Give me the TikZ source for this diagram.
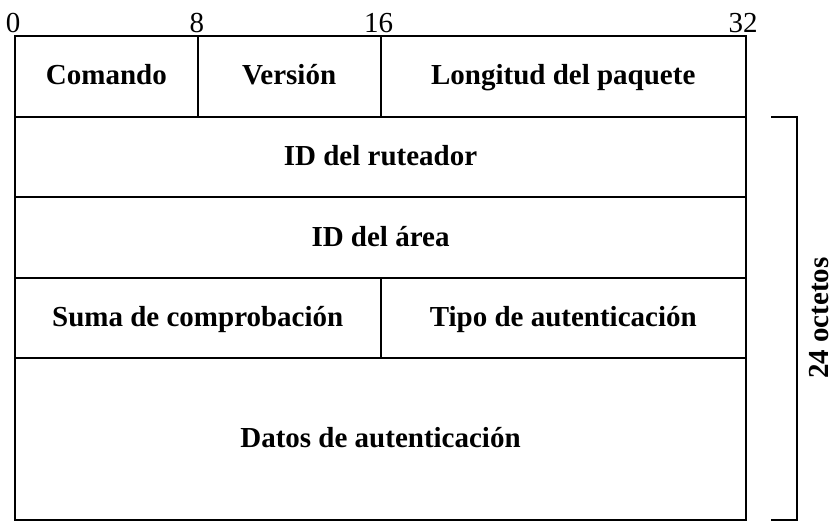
\documentclass[tikz,border=0pt]{standalone}
\usepackage{fontspec}
\setmainfont{Liberation Serif}
\usetikzlibrary{positioning, calc}
\tikzset{
  field/.style={rectangle, draw, line width=2pt, inner sep=0pt, outer sep=0pt, minimum height=80.6pt, text height=17pt, text depth=0pt, font=\fontsize{29}{34}\selectfont\bfseries}, % one row of the header
  byte/.style={field, minimum width=182.75pt},
  halfword/.style={field, minimum width=365.5pt},
  word/.style={field, minimum width=731pt},
  bitmark/.style={inner sep=0pt, font=\fontsize{29}{34}\selectfont},
  bracket/.style={draw, line width=2pt},
  sizelabel/.style={inner sep=0pt, font=\fontsize{29}{34}\selectfont\bfseries}
}
\begin{document}
\begin{tikzpicture}[x=1pt, y=-1pt, node distance=0pt]
    \useasboundingbox (0,0) rectangle (838,532);

    % Fields
    \node[byte, anchor=north west] (comando) at (15,36) {Comando};
    \node[byte, right=of comando] (version) {Versión};
    \node[halfword, right=of version] (longitud) {Longitud del paquete};
    \node[word, below=of comando.south west, anchor=north west] (ruteador) {ID del ruteador};
    \node[word, below=of ruteador] (area) {ID del área};
    \node[halfword, below=of area.south west, anchor=north west] (suma) {Suma de comprobación};
    \node[halfword, right=of suma] (tipo) {Tipo de autenticación};
    \node[word, minimum height=161.2pt, below=of suma.south west, anchor=north west] (datos) {Datos de autenticación};

    % Bit positions
    \node[bitmark, above=3pt of comando.north west, xshift=-2pt] (b0) {0};
    \node[bitmark, above=3pt of version.north west, xshift=-1pt] (b8) {8};
    \node[bitmark, above=3pt of longitud.north west, xshift=-2pt] (b16) {16};
    \node[bitmark, above=3pt of longitud.north east, xshift=-3pt] (b32) {32};

    % Size bracket
    \coordinate[right=25pt of ruteador.north east] (brtop);
    \coordinate[right=25pt of datos.south east] (brbot);
    \draw[bracket] (brtop) -- ++(26,0) |- (brbot);
    \node[sizelabel, rotate=90, anchor=north] (octetos) at ($(brtop)!0.5!(brbot) + (38,0)$) {24 octetos};

\end{tikzpicture}
\end{document}
